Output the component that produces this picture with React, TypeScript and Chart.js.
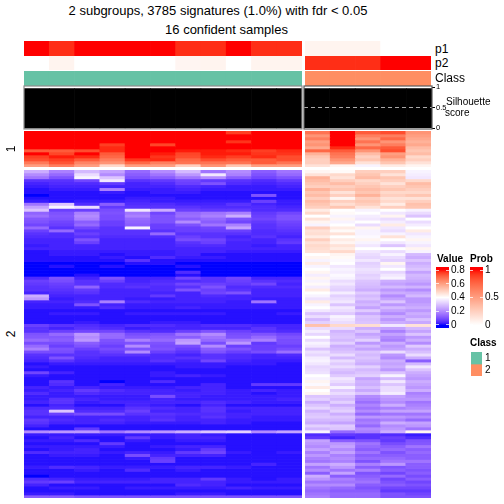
import React, { useEffect, useRef } from "react";
import { Chart, registerables } from "chart.js";

Chart.register(...registerables);

const upperLeft: number[][] = [
  [80,80,80,80,80,80,80,80,76,80,80],
  [80,80,80,80,80,80,80,80,80,80,80],
  [80,80,80,80,80,80,80,80,80,80,80],
  [80,80,80,80,80,80,80,80,77,80,80],
  [80,80,80,76,80,75,80,80,80,80,80],
  [80,80,80,78,80,80,80,80,80,80,80],
  [72,72,74,78,80,80,79,79,78,76,78],
  [80,75,80,72,80,79,75,79,79,77,77],
  [76,79,78,70,80,77,74,78,76,78,74],
  [74,76,72,66,77,78,70,74,72,72,74],
  [67,73,65,62,70,66,68,68,68,72,68],
  [60,66,60,48,60,60,50,62,52,60,60],
];
const upperRight: number[][] = [
  [68,80,72,74,62],
  [62,80,66,66,60],
  [66,80,62,70,58],
  [60,80,68,62,56],
  [62,80,62,66,58],
  [58,78,70,72,54],
  [70,72,62,74,52],
  [56,68,54,60,54],
  [52,66,50,62,48],
  [50,62,52,56,50],
  [50,58,46,52,46],
  [46,42,38,44,42],
];
const lowerRows: number[][] = [
  [26,18,28,24,14,20,28,16,20,12,16, 42,41,50,50,38],
  [20,14,34,20,12,16,22,36,18,10,14, 46,48,52,46,37],
  [16,10,38,30,10,12,16,20,12,8,10, 56,46,54,52,36],
  [5,5,8,36,5,6,8,6,5,4,6, 54,50,48,50,48],
  [3,4,4,6,3,4,7,10,4,3,4, 52,54,50,46,54],
  [2,3,3,3,3,3,4,3,2,2,3, 50,50,52,50,52],
  [1,2,2,18,2,2,3,2,2,2,2, 56,52,54,52,50],
  [1,1,1,2,1,2,2,1,1,1,1, 52,46,52,48,48],
  [0,1,1,1,1,1,1,1,1,10,1, 54,50,56,50,52],
  [1,1,1,1,2,2,1,1,1,1,1, 50,42,50,46,46],
  [2,1,2,2,3,2,2,2,2,7,2, 54,50,52,48,50],
  [16,30,4,12,4,4,3,3,5,3,2, 52,47,50,44,53],
  [24,38,34,6,5,5,5,4,4,4,3, 50,52,46,50,52],
  [30,7,7,9,36,26,7,6,6,4,4, 44,40,38,40,38],
  [13,10,18,10,16,8,14,16,18,6,8, 48,41,40,36,34],
  [15,11,20,9,18,10,15,18,26,7,10, 40,38,37,42,30],
  [11,10,18,9,14,10,12,14,10,8,10, 46,42,36,34,40],
  [10,8,12,7,13,10,20,12,8,6,8, 42,38,40,37,34],
  [8,7,14,7,12,7,10,16,18,5,7, 38,40,34,44,37],
  [14,5,8,5,38,7,7,8,24,5,6, 50,44,42,36,40],
  [7,14,5,5,5,5,7,7,7,4,5, 46,41,38,34,44],
  [5,4,7,5,5,14,5,5,5,4,4, 47,46,38,38,36],
  [4,4,5,4,4,4,7,5,3,5,3, 44,40,39,46,38],
  [3,3,10,3,3,3,9,8,4,3,5, 50,44,42,40,42],
  [3,3,7,3,3,3,5,7,3,3,6, 46,42,38,36,38],
  [2,3,3,3,3,3,4,4,3,2,3, 48,46,36,30,36],
  [3,3,3,3,3,3,3,3,3,3,3, 47,44,40,40,42],
  [1,2,2,2,2,2,3,3,2,2,2, 46,48,36,34,38],
  [1,2,2,1,2,2,3,1,1,1,1, 40,42,34,38,28],
  [1,1,1,2,1,4,2,2,1,1,1, 42,41,33,34,26],
  [1,1,1,1,5,1,1,1,1,1,1, 38,39,36,32,30],
  [0,0,0,0,1,1,0,0,0,0,0, 44,40,32,42,26],
  [0,1,0,1,0,0,1,0,0,0,0, 38,36,33,36,28],
  [0,0,0,0,0,0,0,0,0,0,0, 40,38,35,40,30],
  [0,0,0,0,0,0,4,0,0,0,0, 42,37,34,33,24],
  [0,0,1,0,0,0,1,0,0,0,0, 37,39,32,36,28],
  [4,10,3,10,3,3,8,5,8,3,3, 42,38,33,38,27],
  [7,9,5,7,3,4,4,5,7,5,4, 38,34,30,26,25],
  [6,7,5,4,4,5,8,7,6,8,3, 41,36,29,24,22],
  [5,6,13,4,5,4,5,10,4,4,4, 37,33,28,28,27],
  [5,5,6,3,3,4,10,7,5,3,3, 44,32,26,22,20],
  [3,4,5,3,3,3,3,8,10,3,3, 40,37,31,26,25],
  [26,3,3,3,3,6,3,4,3,3,3, 38,32,28,20,28],
  [22,2,3,3,2,2,3,3,3,2,2, 35,34,30,24,22],
  [3,3,4,18,4,3,3,3,2,16,2, 44,36,26,30,22],
  [2,2,10,3,2,2,2,2,2,2,2, 38,30,28,22,24],
  [2,2,2,4,2,2,3,2,2,2,2, 40,36,24,28,26],
  [1,1,1,1,1,1,1,1,1,1,1, 36,34,31,24,22],
  [1,2,2,1,2,2,2,2,1,1,2, 30,31,25,20,26],
  [1,1,1,1,1,1,1,1,1,1,1, 34,38,30,26,24],
  [1,1,1,1,1,1,1,1,1,1,1, 28,36,29,22,29],
  [1,1,2,1,1,2,2,1,1,1,1, 32,34,30,26,25],
  [7,5,4,3,4,4,3,4,4,3,3, 53,48,47,36,46],
  [5,3,5,4,2,3,3,3,3,5,3, 34,34,26,24,28],
  [5,7,8,8,5,4,7,10,7,5,4, 37,27,30,18,24],
  [10,14,22,14,9,10,16,20,9,10,8, 33,29,24,24,30],
  [11,11,20,14,11,12,12,16,10,14,10, 40,30,27,20,22],
  [14,12,22,10,18,14,22,14,16,18,9, 34,28,32,18,26],
  [9,9,12,9,10,10,24,9,22,6,9, 38,32,22,26,20],
  [14,7,10,7,20,9,9,20,7,7,7, 36,26,28,22,31],
  [18,10,7,9,10,10,7,12,10,7,9, 30,28,24,24,26],
  [9,9,5,7,20,7,5,10,7,9,15, 35,30,30,34,29],
  [5,5,5,5,5,4,3,5,4,3,4, 33,34,28,22,34],
  [4,10,4,3,3,4,5,5,4,3,3, 37,28,30,20,26],
  [3,5,3,3,3,5,3,8,3,2,2, 38,34,28,26,12],
  [1,2,2,2,2,2,2,2,2,2,1, 36,31,26,24,28],
  [2,1,1,1,1,1,2,2,1,1,1, 33,34,32,26,36],
  [1,1,1,1,1,1,1,1,1,1,1, 34,30,28,22,30],
  [8,3,1,1,1,2,1,1,1,1,1, 35,28,30,30,26],
  [2,1,1,1,1,2,3,2,1,1,1, 40,31,32,38,24],
  [1,1,1,1,1,1,1,1,1,1,1, 38,36,24,28,22],
  [1,5,1,0,1,4,1,1,1,1,1, 42,34,27,36,26],
  [1,4,1,3,1,1,1,3,1,6,6, 39,31,26,30,24],
  [3,2,3,2,2,2,3,3,1,1,1, 44,38,29,34,22],
  [2,3,6,4,3,3,2,3,2,3,2, 40,31,25,34,26],
  [4,2,4,3,3,3,3,3,2,1,2, 42,34,30,37,18],
  [2,2,2,2,2,9,3,2,2,2,2, 30,30,20,24,20],
  [2,5,3,2,2,3,2,2,2,2,3, 32,28,18,22,22],
  [3,5,2,3,3,3,3,4,3,2,2, 26,32,15,20,16],
  [1,3,1,1,3,2,1,3,1,1,1, 30,26,19,26,18],
  [4,4,3,3,5,4,3,5,3,3,3, 33,30,16,18,20],
  [5,30,4,4,7,3,3,5,2,3,3, 27,32,20,24,24],
  [5,7,9,9,5,5,4,4,3,3,3, 30,26,14,16,16],
  [3,3,3,3,3,4,3,5,3,2,2, 31,30,22,22,20],
  [6,4,3,4,3,5,3,3,2,2,2, 28,28,16,18,14],
  [5,3,3,3,2,2,2,3,2,1,1, 26,24,18,26,24],
  [3,1,1,1,1,1,1,1,1,1,1, 32,31,14,20,22],
  [1,1,6,1,1,1,1,1,1,1,1, 28,30,20,22,16],
  [20,22,22,16,20,22,26,30,32,20,24, 38,14,18,26,42],
  [2,2,2,2,2,2,3,2,1,1,1, 4,6,5,4,2],
  [1,3,1,1,6,2,3,3,1,1,1, 6,3,5,7,4],
  [2,2,4,1,2,1,2,2,1,1,1, 24,12,10,6,10],
  [1,1,1,6,1,1,1,1,1,1,1, 22,22,16,9,11],
  [2,2,2,2,1,2,3,3,1,1,1, 20,24,14,12,16],
  [1,2,3,1,1,1,2,6,1,1,1, 24,20,12,14,12],
  [4,3,3,2,3,2,6,8,2,1,2, 18,24,16,10,14],
  [1,2,2,1,9,3,3,3,1,1,1, 22,18,12,12,12],
  [1,1,1,1,2,6,1,1,1,1,1, 18,20,14,14,12],
  [1,1,1,1,1,7,1,1,1,1,1, 16,18,10,16,16],
  [1,1,1,1,1,1,1,1,1,3,1, 24,26,18,22,12],
  [2,4,3,2,2,2,3,3,2,1,1, 16,22,12,10,12],
  [1,1,2,1,4,1,2,1,1,1,1, 20,16,18,12,10],
  [1,1,1,1,1,1,1,1,1,1,1, 12,24,10,8,12],
  [0,1,1,1,1,1,1,1,1,1,1, 26,12,12,14,9],
  [4,3,2,2,2,3,3,6,2,1,2, 22,18,14,8,12],
  [6,7,3,3,3,3,3,3,2,2,2, 16,16,16,10,8],
  [3,1,1,1,1,1,4,3,1,1,1, 20,20,12,12,10],
  [1,2,2,1,2,2,2,2,3,2,2, 16,14,10,8,8],
  [1,1,1,1,1,1,1,1,1,1,1, 14,12,12,6,6],
  [2,2,1,1,1,1,2,2,1,1,1, 16,14,14,10,8],
  [12,12,10,10,10,10,10,10,10,10,10, 18,14,14,10,10],
];
const probP1Left = [1, 0.94, 1, 1, 1, 1, 0.94, 0.94, 1, 0.94, 0.94];
const probP2Left = [0, 0.06, 0, 0, 0, 0, 0.05, 0.06, 0, 0.06, 0.06];
const probP1Right = [0.06, 0.06, 0.06, 0, 0];
const probP2Right = [0.94, 0.94, 0.94, 1, 1];
const silhouetteLeft = [0.97, 0.97, 0.97, 0.97, 0.97, 0.97, 0.97, 0.97, 0.97, 0.97, 0.97];
const silhouetteRight = [0.97, 0.97, 0.97, 0.97, 0.97];
const silhouetteTicks = [0, 0.5, 1];
const valueTicks = [0, 0.2, 0.4, 0.6, 0.8];
const probTicks = [0, 0.5, 1];
const classNames = ["1", "2"];
const classColors = ["#66c2a5", "#ff8e62"];
const FONT = '"Liberation Sans", Arial, sans-serif';

type Lab = [number, number, number];
const BLUE: Lab = [32.3, 79.19, -107.86];
const WHITE: Lab = [100, 0, 0];
const RED: Lab = [53.24, 80.09, 67.2];

function labToHex([L, a, b]: Lab): string {
  const fy = (L + 16) / 116;
  const fx = fy + a / 500;
  const fz = fy - b / 200;
  const inv = (t: number) => (t > 6 / 29 ? t * t * t : 3 * (6 / 29) * (6 / 29) * (t - 4 / 29));
  const X = 0.95047 * inv(fx), Y = inv(fy), Z = 1.08883 * inv(fz);
  const lin = [
    3.2406 * X - 1.5372 * Y - 0.4986 * Z,
    -0.9689 * X + 1.8758 * Y + 0.0415 * Z,
    0.0557 * X - 0.204 * Y + 1.057 * Z,
  ];
  const ch = lin.map((c) => {
    const v = c <= 0.0031308 ? 12.92 * c : 1.055 * Math.pow(c, 1 / 2.4) - 0.055;
    return Math.round(Math.min(1, Math.max(0, v)) * 255);
  });
  return `rgb(${ch[0]},${ch[1]},${ch[2]})`;
}
const mix = (p: Lab, q: Lab, t: number): Lab => [
  p[0] + (q[0] - p[0]) * t,
  p[1] + (q[1] - p[1]) * t,
  p[2] + (q[2] - p[2]) * t,
];
function valueColor(v: number): string {
  const c = Math.min(0.8, Math.max(0, v));
  return c < 0.4 ? labToHex(mix(BLUE, WHITE, c / 0.4)) : labToHex(mix(WHITE, RED, (c - 0.4) / 0.4));
}
function probColor(v: number): string {
  return labToHex(mix(WHITE, RED, Math.min(1, Math.max(0, v))));
}

function ChartBox({ left, top, width, height, make }: { left: number; top: number; width: number; height: number; make: () => any }) {
  const ref = useRef<HTMLCanvasElement>(null);
  useEffect(() => {
    const chart = new Chart(ref.current as HTMLCanvasElement, make());
    return () => chart.destroy();
  }, []);
  return (
    <canvas
      ref={ref}
      width={width}
      height={height}
      style={{ position: "absolute", left, top, width, height, display: "block" }}
    />
  );
}

const baseOptions = {
  animation: false,
  responsive: false,
  maintainAspectRatio: false,
  devicePixelRatio: 1,
  events: [],
  plugins: { legend: { display: false }, tooltip: { enabled: false } },
};

function gridConfig(colors: string[][], n: number) {
  const labels = colors[0].map((_, i) => String(i + 1));
  return {
    type: "bar",
    data: {
      labels,
      datasets: colors.map((row) => ({
        data: row.map(() => 1),
        backgroundColor: row,
        borderWidth: 0,
        barPercentage: 1,
        categoryPercentage: 1,
      })),
    },
    options: {
      ...baseOptions,
      layout: { padding: 0 },
      scales: {
        x: { stacked: true, display: false },
        y: { stacked: true, display: false, reverse: true, min: 0, max: n },
      },
    },
  };
}

function silhouetteConfig(values: number[], withAxis: boolean, frame: string) {
  return {
    type: "bar",
    data: {
      labels: values.map((_, i) => String(i + 1)),
      datasets: [
        {
          data: values.map((v) => [0, v]),
          backgroundColor: "#000000",
          borderWidth: 0,
          barPercentage: 1,
          categoryPercentage: 1,
        },
      ],
    },
    options: {
      ...baseOptions,
      layout: { padding: { top: 6, bottom: 6, left: 1, right: withAxis ? 0 : 1 } },
      scales: {
        x: { display: false },
        y: {
          position: "right",
          min: -0.02,
          max: 1.03,
          display: withAxis,
          afterBuildTicks: (s: any) => {
            s.ticks = silhouetteTicks.map((value) => ({ value }));
          },
          afterFit: (s: any) => {
            s.width = withAxis ? 28 : 0;
          },
          border: { display: false, dash: [4, 3] },
          grid: {
            z: 1,
            tickLength: 3,
            color: (c: any) => (c.tick && c.tick.value === 0.5 ? "#a8a8a8" : "rgba(0,0,0,0)"),
            tickColor: "#000000",
            tickBorderDash: [],
          },
          ticks: {
            padding: 1,
            font: { family: FONT, size: 7.5 },
            color: "#000000",
            maxRotation: 0,
            autoSkip: false,
            callback: (v: number) => String(v),
          },
        },
      },
    },
    plugins: [
      {
        id: "frame",
        afterDraw(chart: any) {
          const { ctx, chartArea: a } = chart;
          ctx.save();
          ctx.strokeStyle = frame;
          ctx.lineWidth = 1.2;
          ctx.strokeRect(a.left, a.top, a.right - a.left, a.bottom - a.top);
          ctx.restore();
        },
      },
    ],
  };
}

function colorBarConfig(lo: number, hi: number, tickValues: number[], color: (v: number) => string) {
  return {
    type: "bar",
    data: {
      labels: ["bar"],
      datasets: [
        {
          data: [[lo, hi]],
          backgroundColor: (c: any) => {
            const chart = c.chart;
            if (!chart.chartArea) return "#ffffff";
            const y = chart.scales.y;
            const g = chart.ctx.createLinearGradient(0, y.getPixelForValue(lo), 0, y.getPixelForValue(hi));
            for (let i = 0; i <= 24; i++) g.addColorStop(i / 24, color(lo + ((hi - lo) * i) / 24));
            return g;
          },
          borderWidth: 0,
          barPercentage: 1,
          categoryPercentage: 1,
        },
      ],
    },
    options: {
      ...baseOptions,
      layout: { padding: { top: 8, bottom: 8 } },
      scales: {
        x: { display: false },
        y: {
          position: "right",
          min: lo,
          max: hi,
          afterBuildTicks: (s: any) => {
            s.ticks = tickValues.map((value) => ({ value }));
          },
          afterFit: (s: any) => {
            s.width = 20;
          },
          border: { display: false, dash: [3, 7] },
          grid: { z: 1, drawTicks: false, color: "rgba(255,255,255,0.75)" },
          ticks: {
            padding: 2,
            font: { family: FONT, size: 10 },
            color: "#000000",
            maxRotation: 0,
            autoSkip: false,
            callback: (v: number) => String(v),
          },
        },
      },
    },
  };
}

function Label({ x, y, text, size, bold, center, rotate }: { x: number; y: number; text: string; size: number; bold?: boolean; center?: boolean; rotate?: boolean }) {
  const shift = center ? "-50%" : "0";
  return (
    <div
      style={{
        position: "absolute",
        left: x,
        top: y,
        fontFamily: FONT,
        fontSize: size,
        fontWeight: bold ? 700 : 400,
        lineHeight: 1,
        color: "#000",
        whiteSpace: "nowrap",
        transform: rotate ? "translate(-50%,-50%) rotate(-90deg)" : `translate(${shift},-50%)`,
      }}
    >
      {text}
    </div>
  );
}

export default function App() {
  const L = 24, LW = 278, R = 305, RW = 126;
  const heat = (rows: number[][]) => rows.map((r) => r.map((v) => valueColor(v / 100)));
  const lowerLeft = lowerRows.map((r) => r.slice(0, 11));
  const lowerRight = lowerRows.map((r) => r.slice(11));
  return (
    <div style={{ position: "absolute", left: 0, top: 0, width: 504, height: 504, background: "#fff", overflow: "hidden" }}>
      <Label x={218} y={10} text="2 subgroups, 3785 signatures (1.0%) with fdr < 0.05" size={13} center />
      <Label x={226.5} y={29} text="16 confident samples" size={13} center />

      <ChartBox left={L} top={41} width={LW} height={15} make={() => gridConfig([probP1Left.map(probColor)], 1)} />
      <ChartBox left={L} top={56} width={LW} height={14} make={() => gridConfig([probP2Left.map(probColor)], 1)} />
      <ChartBox left={L} top={71} width={LW} height={15} make={() => gridConfig([probP1Left.map(() => classColors[0])], 1)} />
      <ChartBox left={R} top={41} width={RW} height={15} make={() => gridConfig([probP1Right.map(probColor)], 1)} />
      <ChartBox left={R} top={56} width={RW} height={14} make={() => gridConfig([probP2Right.map(probColor)], 1)} />
      <ChartBox left={R} top={71} width={RW} height={15} make={() => gridConfig([probP1Right.map(() => classColors[1])], 1)} />

      <ChartBox left={23} top={80} width={280} height={55} make={() => silhouetteConfig(silhouetteLeft, false, "#8c8c8c")} />
      <ChartBox left={303} top={80} width={157} height={55} make={() => silhouetteConfig(silhouetteRight, true, "#5a5a5a")} />

      <ChartBox left={L} top={131} width={LW} height={36} make={() => gridConfig(heat(upperLeft), upperLeft.length)} />
      <ChartBox left={R} top={131} width={RW} height={36} make={() => gridConfig(heat(upperRight), upperRight.length)} />
      <ChartBox left={L} top={170} width={LW} height={328} make={() => gridConfig(heat(lowerLeft), lowerLeft.length)} />
      <ChartBox left={R} top={170} width={RW} height={328} make={() => gridConfig(heat(lowerRight), lowerRight.length)} />

      <Label x={435} y={49} text="p1" size={12} />
      <Label x={435} y={63} text="p2" size={12} />
      <Label x={435} y={78} text="Class" size={12} />
      <Label x={446} y={102} text="Silhouette" size={10} />
      <Label x={445} y={113} text="score" size={10} />
      <Label x={11} y={149} text="1" size={12} rotate />
      <Label x={11} y={334} text="2" size={12} rotate />

      <Label x={437} y={259} text="Value" size={10} bold />
      <Label x={470} y={259} text="Prob" size={10} bold />
      <ChartBox left={436} top={259} width={33} height={77} make={() => colorBarConfig(-0.044, 0.844, valueTicks, valueColor)} />
      <ChartBox left={470} top={259} width={33} height={77} make={() => colorBarConfig(-0.055, 1.055, probTicks, probColor)} />

      <Label x={470} y={343} text="Class" size={10} bold />
      <ChartBox left={471} top={352} width={11} height={24} make={() => gridConfig(classColors.map((c) => [c]), classColors.length)} />
      <Label x={485} y={358} text={classNames[0]} size={10} />
      <Label x={485} y={370} text={classNames[1]} size={10} />
    </div>
  );
}
